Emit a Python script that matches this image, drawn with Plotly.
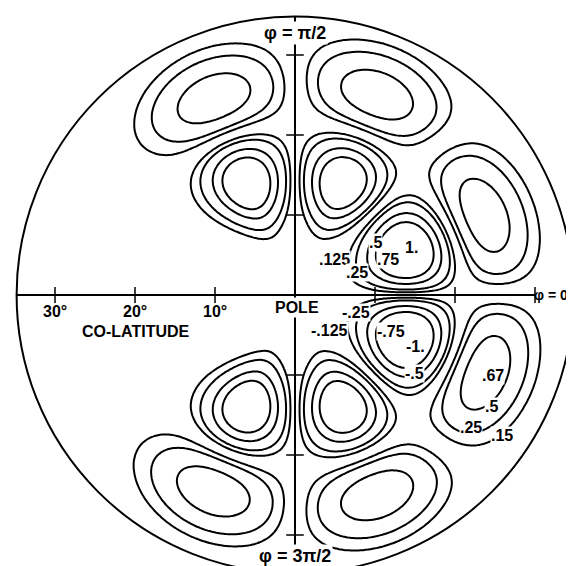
import numpy as np
import plotly.graph_objects as go

# polar cap plot: co-latitude (deg) is the radius, phi the azimuth
# lobe centres, peak values and widths
inner_colat = [14.8, 15.2, 15.2, 14.8, 15.2, 15.2]
inner_phi = [21.0, 67.0, 113.0, -21.0, -67.0, -113.0]
inner_peak = [1.35, -1.2, 1.2, -1.35, 1.2, -1.2]
inner_wr = [3.5, 3.5, 3.5, 3.5, 3.5, 3.5]
inner_wphi = [13.5, 11.5, 11.5, 13.5, 11.5, 11.5]

outer_colat = [25.6, 27.0, 26.5, 25.6, 27.0, 26.5]
outer_phi = [22.6, 67.5, 112.3, -22.0, -67.5, -112.5]
outer_peak = [-0.72, 0.72, -0.72, 0.72, -0.72, 0.72]
outer_wr = [3.4, 3.4, 3.4, 3.4, 3.4, 3.4]
outer_wphi = [14.0, 12.5, 12.5, 14.0, 12.5, 12.5]

# contour levels drawn in the figure
levels = [-0.75, -0.5, -0.25, -0.125, 0.125, 0.25, 0.5, 0.75]

# contour labels as printed (text, x, y in degrees)
label_text = [".5", "1.", ".125", ".75", ".25",
              "-.25", "-.125", "-.75", "-1.", "-.5",
              ".67", ".5", ".25", ".15"]
label_x = [10.1, 14.6, 4.9, 11.6, 7.8, 7.6, 4.3, 12.0, 15.1, 14.9, 24.8, 24.5, 22.0, 25.9]
label_y = [6.6, 5.9, 4.5, 4.4, 2.8, -2.2, -4.4, -4.5, -6.4, -9.8, -10.1, -13.9, -16.6, -17.6]

tick_colat = [10, 20, 30]
tick_text = ["10°", "20°", "30°"]
cap_colat = 34.8

# grid in degrees
g = np.arange(-35, 35.01, 0.3)
X, Y = np.meshgrid(g, g)
R = np.hypot(X, Y)
PHI = np.degrees(np.arctan2(Y, X))


def lobes(colats, phis, peaks, wr, wphi):
    z = np.zeros_like(R)
    for c, p, a, sr, sp in zip(colats, phis, peaks, wr, wphi):
        dphi = (PHI - p + 180) % 360 - 180
        z += a * np.exp(-0.5 * ((R - c) / sr) ** 2 - 0.5 * (dphi / sp) ** 2)
    return z


Z = (lobes(inner_colat, inner_phi, inner_peak, inner_wr, inner_wphi)
     + lobes(outer_colat, outer_phi, outer_peak, outer_wr, outer_wphi))
Z = np.round(Z, 3)

fig = go.Figure()

for lv in levels:
    fig.add_trace(go.Contour(
        x=g, y=g, z=Z,
        contours=dict(start=lv, end=lv, size=1, coloring="lines"),
        colorscale=[[0, "black"], [1, "black"]],
        line=dict(width=2, color="black", smoothing=1),
        showscale=False, hoverinfo="skip"
    ))

# axes through the pole
fig.add_trace(go.Scatter(x=[-cap_colat, 30], y=[0, 0], mode="lines",
                         line=dict(color="black", width=2), hoverinfo="skip"))
fig.add_trace(go.Scatter(x=[0, 0], y=[-cap_colat, cap_colat], mode="lines",
                         line=dict(color="black", width=2), hoverinfo="skip"))

# tick crosses on both axes
tx, ty = [], []
for t in tick_colat:
    for s in (-1, 1):
        tx += [s * t, s * t, None]
        ty += [-1.0, 1.0, None]
        tx += [-1.1, 1.1, None]
        ty += [s * t, s * t, None]
fig.add_trace(go.Scatter(x=tx, y=ty, mode="lines",
                         line=dict(color="black", width=1.5), hoverinfo="skip"))

fig.add_shape(type="circle", xref="x", yref="y",
              x0=-cap_colat, y0=-cap_colat, x1=cap_colat, y1=cap_colat,
              line=dict(color="black", width=2))

family = "Liberation Sans, Arial, sans-serif"
font = dict(family=family, size=16, color="black", weight="bold")
phi_font = dict(family=family, size=18, color="black", weight="bold")

for t, x, y in zip(label_text, label_x, label_y):
    fig.add_annotation(x=x, y=y, text=t, showarrow=False, font=font,
                       bgcolor="white", borderpad=0)

for t, lab in zip(tick_colat, tick_text):
    fig.add_annotation(x=-t, y=-2.1, text=lab, showarrow=False, font=font)

fig.add_annotation(x=0, y=32.8, text="φ = π/2", showarrow=False, font=phi_font,
                   bgcolor="white", borderpad=1)
fig.add_annotation(x=0, y=-32.6, text="φ = 3π/2", showarrow=False, font=phi_font,
                   bgcolor="white", borderpad=1)
fig.add_annotation(x=34.2, y=0, text="φ = 0", showarrow=False,
                   font=dict(family=family, size=14, color="black", weight="bold"),
                   xanchor="right", borderpad=0)
fig.add_annotation(x=0.3, y=-1.6, text="POLE", showarrow=False, font=font,
                   bgcolor="white", borderpad=1)
fig.add_annotation(x=-19.9, y=-4.5, text="CO-LATITUDE", showarrow=False, font=font)

fig.update_layout(
    width=574, height=566,
    margin=dict(l=0, r=0, t=0, b=0),
    paper_bgcolor="white", plot_bgcolor="white",
    showlegend=False,
    xaxis=dict(range=[-287 / 8, 287 / 8], visible=False, fixedrange=True),
    yaxis=dict(range=[-279 / 8, 287 / 8], visible=False, fixedrange=True),
)

fig.write_html("out.html")
